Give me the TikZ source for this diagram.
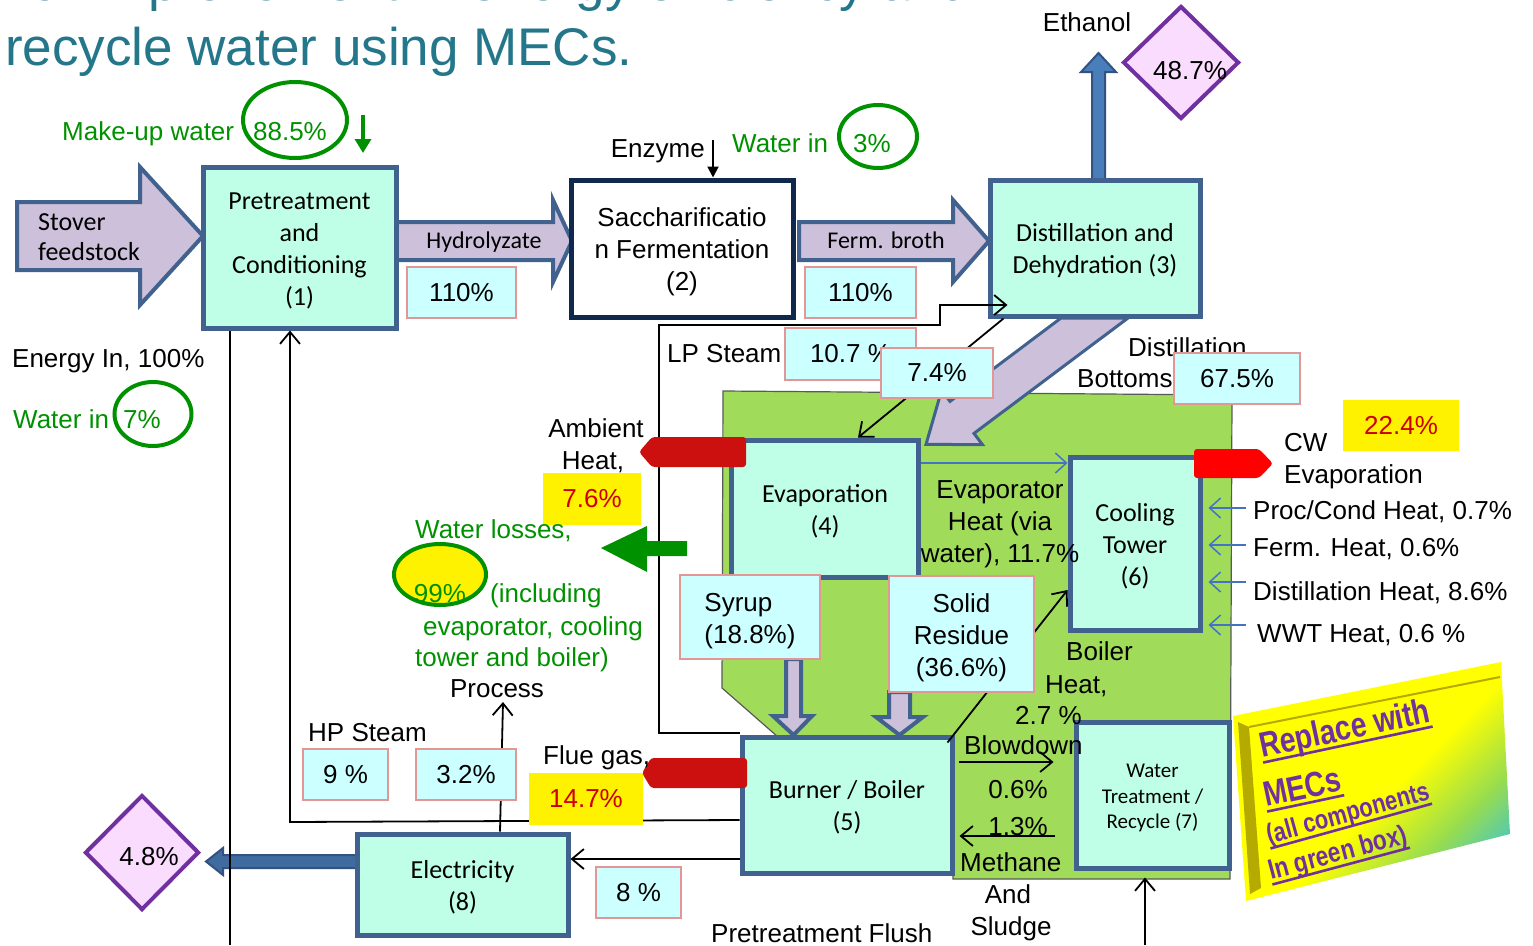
\documentclass[tikz,border=0pt]{standalone}
\usepackage{fontspec}
\setmainfont{Liberation Sans}
\newfontfamily\calfont{Carlito}
\usetikzlibrary{arrows.meta,shapes.geometric,calc}

\definecolor{mint}{RGB}{191,255,232}
\definecolor{boxblue}{RGB}{65,98,143}
\definecolor{navyedge}{RGB}{15,40,75}
\definecolor{lav}{RGB}{204,192,218}
\definecolor{valfill}{RGB}{204,255,255}
\definecolor{valedge}{RGB}{226,150,150}
\definecolor{grn}{RGB}{0,145,0}
\definecolor{zone}{RGB}{160,220,90}
\definecolor{titleteal}{RGB}{36,118,138}
\definecolor{darkred}{RGB}{204,16,16}
\definecolor{redtxt}{RGB}{204,0,0}
\definecolor{dpink}{RGB}{250,220,255}
\definecolor{dpurple}{RGB}{112,48,160}
\definecolor{lblue}{RGB}{68,114,196}
\definecolor{ethblue}{RGB}{74,126,187}
\definecolor{ethedge}{RGB}{50,82,130}
\definecolor{mcyan}{RGB}{40,190,240}
\definecolor{mgreen}{RGB}{150,220,80}
\definecolor{olivebevel}{RGB}{180,170,0}

\newcommand\fA{\fontsize{26}{32}\selectfont}
\newcommand\fC{\calfont\fontsize{26}{32}\selectfont}
\newcommand\fCs{\calfont\fontsize{21}{25.5}\selectfont}
\newcommand\fCm{\calfont\fontsize{24}{28}\selectfont}
\newcommand\fT{\fontsize{53}{63}\selectfont}
% tall struts that lower a multi-line block inside its box
\newcommand\lowr{\rule{0pt}{23pt}}
\newcommand\lowra{\rule{0pt}{25pt}}
\newcommand\lowrs{\rule{0pt}{20pt}}
\newcommand\lowrv{\rule{0pt}{27pt}}
% heavy underline for the note panel
\newcommand\thickul[1]{\setbox0=\hbox{#1}\copy0\llap{\rule[-6pt]{\wd0}{2.6pt}}}

\pgfdeclareverticalshading{mecsfade}{100bp}{color(0bp)=(mcyan); color(18bp)=(mcyan); color(32bp)=(mgreen); color(46bp)=(yellow); color(100bp)=(yellow)}

\begin{document}
\begin{tikzpicture}[x=1pt,y=-1pt]
\tikzset{
  proc/.style={draw=boxblue, line width=5pt, fill=mint, font=\fC, align=center, inner sep=0pt},
  val/.style={draw=valedge, line width=2pt, fill=valfill, font=\fA, inner sep=0pt},
  hot/.style={fill=yellow, font=\fA, text=redtxt, inner sep=0pt},
  lbl/.style={font=\fA, inner sep=0pt, anchor=base west},
  clbl/.style={font=\fA, inner sep=0pt, anchor=base},
  wet/.style={text=grn},
  ring/.style={ellipse, draw=grn, line width=4pt, inner sep=0pt},
  link/.style={line width=1.8pt, -{Straight Barb[length=12pt,width=20pt]}},
  plain/.style={line width=1.8pt},
  heatlink/.style={draw=lblue, line width=1.5pt, -{Straight Barb[length=11pt,width=20pt]}},
  blockarrow/.style={fill=lav, draw=boxblue, line width=4pt},
  mecsline/.style={anchor=base west, inner sep=0pt, text=dpurple},
}
\useasboundingbox (0,0) rectangle (1533,945);
\clip (0,0) rectangle (1533,945);

% heading
\node[anchor=base west, inner sep=0pt, font=\fT, text=titleteal] (head1) at (16,0.5) {for improvement in energy efficiency and};
\node[anchor=base west, inner sep=0pt, font=\fT, text=titleteal] (head2) at (5,65) {recycle water using MECs.};

% green zone of components
\filldraw[fill=zone, draw=black!65, line width=1.2pt] (723,391) -- (1232,395) -- (1230,879) -- (953,879) -- (953,737) -- (778,737) -- (722,688) -- cycle;

% distillation bottoms stream
\filldraw[blockarrow, line width=3pt] (1061,318) -- (950,401.4) -- (941.6,390.2) -- (926,444.4) -- (982.4,444.6) -- (974,433.4) -- (1128,318) -- cycle;

% main stream arrows
\filldraw[blockarrow] (17,202) -- (140,202) -- (140,167) -- (203,236) -- (140,305) -- (140,270) -- (17,270) -- cycle;
\filldraw[blockarrow] (396,222) -- (553,222) -- (553,200) -- (572,241) -- (553,282) -- (553,260) -- (396,260) -- cycle;
\filldraw[blockarrow] (799,222) -- (953,222) -- (953,200) -- (989,241) -- (953,282) -- (953,260) -- (799,260) -- cycle;
\node[font=\fC, anchor=base west, inner sep=0pt] (stv) at (38,230) {Stover};
\node[font=\fC, anchor=base west, inner sep=0pt] (fst) at (38,260) {feedstock};
\node[font=\fCm, anchor=base, inner sep=0pt] (hyd) at (484,248) {Hydrolyzate};
\node[font=\fCm, anchor=base, inner sep=0pt] (fbr) at (886,248) {Ferm. broth};

% ethanol product arrow
\filldraw[fill=ethblue, draw=ethedge, line width=2pt] (1092,182) -- (1092,72) -- (1081,72) -- (1098.5,53) -- (1116,72) -- (1105,72) -- (1105,182) -- cycle;

% syrup and residue to the boiler
\filldraw[blockarrow] (786,659) -- (786,716) -- (773,716) -- (793.5,735) -- (812,716) -- (801,716) -- (801,659) -- cycle;
\filldraw[blockarrow] (889,692) -- (889,717) -- (876,717) -- (899.5,735) -- (923,717) -- (910,717) -- (910,692) -- cycle;

% electricity export arrow
\filldraw[fill=ethblue!85!black, draw=ethedge, line width=2pt] (358,855) -- (223,855) -- (223,848) -- (206,861.5) -- (223,875) -- (223,868) -- (358,868) -- cycle;

% process units
\node[proc, minimum width=193pt, minimum height=161pt] (p1) at (299.5,247.5) {\lowr Pretreatment\\and\\Conditioning\\(1)};
\node[proc, fill=white, draw=navyedge, font=\fA, minimum width=222pt, minimum height=137pt] (b2) at (682,248.5) {\lowra Saccharificatio\\n Fermentation\\(2)};
\node[proc, minimum width=210pt, minimum height=136pt] (b3) at (1095,248) {\lowr Distillation and\\Dehydration (3)};
\node[proc, minimum width=187pt, minimum height=137pt] (b4) at (825,508.5) {\lowr Evaporation\\(4)};
\node[proc, minimum width=210pt, minimum height=136pt] (b5) at (847,805) {\lowr Burner / Boiler\\(5)};
\node[proc, minimum width=130pt, minimum height=173pt] (b6) at (1135,543.5) {\lowr Cooling\\Tower\\(6)};
\node[proc, font=\fCs, minimum width=153pt, minimum height=146pt] (b7) at (1152.5,795) {\lowrs Water\\Treatment /\\Recycle (7)};
\node[proc, minimum width=211pt, minimum height=101pt] (b8) at (462.5,884.5) {\lowr Electricity\\(8)};

% product diamonds
\node[diamond, draw=dpurple, line width=4pt, fill=dpink, minimum width=116pt, minimum height=113pt, inner sep=0pt] (d1) at (1181,62.5) {};
\node[clbl] (d1t) at (1190,79) {48.7\%};
\node[diamond, draw=dpurple, line width=4pt, fill=dpink, minimum width=114pt, minimum height=115pt, inner sep=0pt] (d2) at (142,852.5) {};
\node[clbl] (d2t) at (149,865) {4.8\%};

% connectors
\draw[link] (b5.west |- 0,733) -- (659,733) -- (659,325) -- (940,325) -- (940,305) -- ($(b3.west |- 0,305)+(20,0)$);
\draw[link] (b5.west |- 0,820) -- (290,822) -- (p1.south -| 290,0);
\draw[link] (b5.west |- 0,859) -- (b8.east |- 0,859);
\coordinate (pbot) at (230,945);
\draw[plain] (p1.south -| pbot) -- (pbot);
\coordinate (procup) at (503,702);
\draw[link] (b8.north -| 500,0) -- (procup);
\draw[link] ($(b3.south west)+(16,0)$) -- (b4.north -| 858,0);
\draw[link] ($(b5.north east)+(-7,8)$) -- (b6.west |- 0,590);
\draw[heatlink] (b4.east |- 0,463) -- (b6.west |- 0,463);
\draw[link] ($(b5.east |- 0,762)+(4,0)$) -- ($(b7.west |- 0,762)+(-20,0)$);
\draw[link] ($(b7.west |- 0,836)+(-19,0)$) -- ($(b5.east |- 0,836)+(5,0)$);
\coordinate (wtin) at (1145,945);
\draw[link] (wtin) -- ($(b7.south -| wtin)+(0,7)$);
\coordinate (enz) at (713,140);
\draw[line width=2pt, -{Triangle[length=11pt,width=11pt]}] (enz) -- (enz |- b2.north);
\coordinate (mutop) at (363,115);
\coordinate (muend) at (363,153);
\draw[grn, line width=4pt, -{Triangle[length=14pt,width=16pt]}] (mutop) -- (muend);
\foreach \yy in {508,545,582,625}
  \draw[heatlink] ($(b6.east |- 0,\yy)+(43,0)$) -- ($(b6.east |- 0,\yy)+(6,0)$);

% stream values
\node[val, minimum width=109pt, minimum height=51pt] (h1) at (461.5,292.5) {110\%};
\node[val, minimum width=111pt, minimum height=51pt] (h2) at (860.5,292.5) {110\%};
\node[val, minimum width=131pt, minimum height=52pt] (lp) at (850.5,354) {10.7 \%\hspace{8pt}};
\node[val, minimum width=112pt, minimum height=50pt] (v74) at (937,373) {7.4\%\hspace{14pt}};
\node[lbl] (dbt1) at (1128,356) {Distillation};
\node[lbl] (dbt2) at (1077,387) {Bottoms};
\node[val, minimum width=126pt, minimum height=51pt] (v675) at (1237,378.5) {67.5\%\hspace{12pt}};
\node[val, align=left, minimum width=140pt, minimum height=84pt] (syr) at (750,617) {\lowrv Syrup\\(18.8\%)};
\node[val, align=center, minimum width=145pt, minimum height=116pt] (sol) at (961.5,634) {\lowrv Solid\\Residue\\(36.6\%)};
\node[val, minimum width=85pt, minimum height=51pt] (hp9) at (345.5,774.5) {9 \%};
\node[val, minimum width=100pt, minimum height=51pt] (v32) at (466,774.5) {3.2\%};
\node[val, minimum width=85pt, minimum height=51pt] (v8) at (638.5,892.5) {8 \%};

% heat losses
\fill[darkred, rounded corners=3pt] (746,437) -- (652,437) -- (639,452) -- (652,467) -- (746,467) -- cycle;
\fill[darkred, rounded corners=3pt] (747,758) -- (651,758) -- (642,773) -- (651,788) -- (747,788) -- cycle;
\fill[red, rounded corners=3pt] (1194,449) -- (1259,449) -- (1273,463.5) -- (1259,478) -- (1194,478) -- cycle;
\node[hot, minimum width=98pt, minimum height=52pt] (y76) at (592,499) {7.6\%};
\node[hot, minimum width=114pt, minimum height=52pt] (y147) at (586,799) {14.7\%};
\node[hot, minimum width=116pt, minimum height=51pt] (y224) at (1401,425.5) {22.4\%};

% water losses arrow
\fill[grn] (601,548) -- (647,526) -- (647,541) -- (687,541) -- (687,556) -- (647,556) -- (647,572) -- cycle;

% labels
\node[lbl, wet] (muw) at (62,140) {Make-up water};
\node[ring, minimum width=104pt, minimum height=76pt] (c885) at (295,120) {};
\node[clbl, wet] (mu885) at (290,140) {88.5\%};
\node[lbl, anchor=base east] (enzt) at (705,157) {Enzyme};
\node[lbl, wet] (wi3) at (732,152) {Water in};
\node[ring, minimum width=78pt, minimum height=63pt] (c3) at (878,136.5) {};
\node[clbl, wet] (wi3v) at (872,152) {3\%};
\node[clbl] (eth) at (1087,31) {Ethanol};
\node[lbl] (ein) at (12,367) {Energy In, 100\%};
\node[lbl, wet] (wi7) at (13,428) {Water in};
\node[ring, minimum width=77pt, minimum height=64pt] (c7) at (153,414) {};
\node[clbl, wet] (wi7v) at (142,428) {7\%};
\node[lbl] (lps) at (667,362) {LP Steam};
\node[clbl] (amb1) at (596,437) {Ambient};
\node[clbl] (amb2) at (593,469) {Heat,};
\node[lbl, wet] (wl) at (415,538) {Water losses,};
\node[ring, fill=yellow, minimum width=92pt, minimum height=61pt] (c99) at (440,574.5) {};
\node[clbl, wet] (wl99) at (440,602) {99\%};
\node[lbl, wet] (wl1) at (490,602) {(including};
\node[lbl, wet] (wl2) at (423,635) {evaporator, cooling};
\node[lbl, wet] (wl3) at (415,666) {tower and boiler)};
\node[clbl] (prc) at (497,697) {Process};
\node[lbl] (hps) at (308,741) {HP Steam};
\node[lbl] (flue) at (543,764) {Flue gas,};
\node[font=\fA, align=center, inner sep=0pt] (evh) at (1000,524) {Evaporator\\Heat (via\\water), 11.7\%};
\node[lbl] (cw1) at (1284,451) {CW};
\node[lbl] (cw2) at (1284,483) {Evaporation};
\node[lbl] (ht1) at (1253,519) {Proc/Cond Heat, 0.7\%};
\node[lbl] (ht2) at (1253,556) {Ferm. Heat, 0.6\%};
\node[lbl] (ht3) at (1253,600) {Distillation Heat, 8.6\%};
\node[lbl] (ht4) at (1257,642) {WWT Heat, 0.6 \%};
\node[lbl] (bh1) at (1066,660) {Boiler};
\node[lbl] (bh2) at (1045,693) {Heat,};
\node[lbl] (bh3) at (1015,724) {2.7 \%};
\node[lbl] (bd) at (964,754) {Blowdown};
\node[clbl] (bd6) at (1018,798) {0.6\%};
\node[clbl] (me13) at (1018,835) {1.3\%};
\node[lbl] (me1) at (960,871) {Methane};
\node[clbl] (me2) at (1008,903) {And};
\node[clbl] (me3) at (1011,935) {Sludge};
\node[lbl] (pfl) at (711,942) {Pretreatment Flush};

% note panel
\shade[shading=mecsfade, shading angle=45] (1233,716) -- (1501,662) -- (1510,834) -- (1246,901) -- cycle;
\fill[olivebevel] (1238,722) -- (1249,727) -- (1261,888) -- (1250,894) -- cycle;
\draw[olivebevel, line width=2pt] (1249,727) -- (1500,677);
\node[mecsline, rotate=12, font=\fontsize{35}{40}\selectfont\bfseries] (r1) at (1262,758) {\scalebox{0.81}[1]{\thickul{Replace with}}};
\node[mecsline, rotate=12, font=\fontsize{35}{40}\selectfont\bfseries] (r2) at (1266,807) {\scalebox{0.81}[1]{\thickul{MECs}}};
\node[mecsline, rotate=15.5, font=\fontsize{27}{32}\selectfont\bfseries] (r3) at (1269,844) {\scalebox{0.81}[1]{\thickul{(all components}}};
\node[mecsline, rotate=15, font=\fontsize{28}{32}\selectfont\bfseries] (r4) at (1271,880) {\scalebox{0.81}[1]{\thickul{In green box)}}};
\end{tikzpicture}
\end{document}
